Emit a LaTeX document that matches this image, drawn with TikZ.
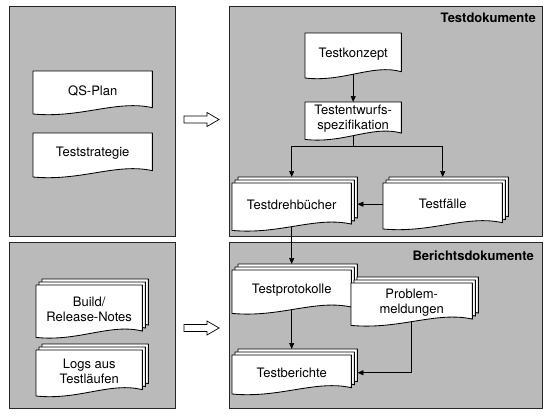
\documentclass[tikz,border=0pt]{standalone}
\usepackage{fontspec}
\setmainfont{TeX Gyre Heros}
\usetikzlibrary{calc,arrows.meta}
\pgfdeclarelayer{bg}
\pgfdeclarelayer{docs}
\pgfsetlayers{bg,docs,main}
\def\dd{9pt}
% #1 node name, #2 offset (pt) to the right and up
\newcommand\docshape[2]{%
  \path[docline] let \p1=(#1.south west), \p2=(#1.north east), \n1={\x2-\x1} in
    (\x1+#2pt,\y2+#2pt) -- (\x2+#2pt,\y2+#2pt) -- (\x2+#2pt,\y1+0.3*\dd+#2pt)
    .. controls (\x2-0.3*\n1+#2pt,\y1+1.2*\dd+#2pt) and (\x1+0.4*\n1+#2pt,\y1-0.9*\dd+#2pt)
    .. (\x1+#2pt,\y1-0.4*\dd+#2pt) -- cycle;}
\newcommand\docstack[1]{%
  \docshape{#1}{6}%
  \docshape{#1}{3}%
  \docshape{#1}{0}}
\tikzset{
  docline/.style={draw=black, fill=white, line width=0.85pt, line join=round},
  doc/.style={inner sep=0pt, align=center, anchor=north west, font=\fontsize{13}{15}\selectfont},
  panel/.style={draw=black!85, fill=black!27, line width=1pt},
  title/.style={inner sep=0pt, font=\fontsize{13}{15}\selectfont\bfseries},
  conn/.style={-{Triangle[length=6pt,width=5pt]}, line width=0.7pt},
  plain/.style={line width=0.7pt},
  hollow/.style={draw=black, fill=white, line width=0.7pt, line join=miter}
}
\begin{document}
\begin{tikzpicture}[x=1pt,y=-1pt]
\useasboundingbox (0,0) rectangle (554,415);
\begin{pgfonlayer}{bg}
  \fill[white] (0,0) rectangle (554,415);
  \draw[panel] (9,6) rectangle (175,236);
  \draw[panel] (9,242) rectangle (175,408);
  \draw[panel] (229,6) rectangle (542,236);
  \draw[panel] (229,242) rectangle (542,408);
\end{pgfonlayer}

% hollow arrows between panels
\draw[hollow] (184,116) -- (207,116) -- (207,112.5) -- (219,119.5) -- (207,126.5) -- (207,123) -- (184,123) -- cycle;
\draw[hollow] (184,324.5) -- (207,324.5) -- (207,321) -- (219,328) -- (207,335) -- (207,331.5) -- (184,331.5) -- cycle;

% titles
\node[title, anchor=base east] (tdok) at (536,22) {Testdokumente};
\node[title, anchor=base east] (bdok) at (534,260) {Berichtsdokumente};

% left panels
\node[doc, minimum width=119pt, minimum height=39pt] (qs) at (33,71) {QS-Plan};
\node[doc, minimum width=119pt, minimum height=40pt] (ts) at (33,133) {Teststrategie};
\node[doc, minimum width=106pt, minimum height=48.4pt] (brn) at (36,285) {Build/\\Release-Notes};
\node[doc, minimum width=106pt, minimum height=42pt] (logs) at (36,350) {Logs aus\\Testläufen};

% right top
\node[doc, minimum width=96pt, minimum height=41pt] (tk) at (305,33) {Testkonzept};
\node[doc, minimum width=96pt, minimum height=33.4pt] (te) at (305,102) {Testentwurfs-\\spezifikation};
\node[doc, minimum width=119pt, minimum height=43.4pt] (tdb) at (232,183) {Testdrehbücher};
\node[doc, minimum width=119pt, minimum height=42pt] (tf) at (383,183) {Testfälle};

% right bottom
\node[doc, minimum width=119pt, minimum height=39.4pt] (tp) at (232,270) {Testprotokolle};
\node[doc, minimum width=121pt, minimum height=38.4pt] (pm) at (351,283) {Problem-\\meldungen};
\node[doc, minimum width=119pt, minimum height=35pt] (tb) at (232,355) {Testberichte};

\begin{pgfonlayer}{docs}
  \docshape{qs}{0}
  \docshape{ts}{0}
  \docstack{brn}
  \docstack{logs}
  \docshape{tk}{0}
  \docshape{te}{0}
  \docstack{tdb}
  \docstack{tf}
  \docstack{tp}
  \docstack{pm}
  \docstack{tb}
\end{pgfonlayer}

% connectors
\coordinate (br) at ($(te.south)+(0,11)$);
\coordinate (tdbE) at ([xshift=6pt]tdb.east);
\coordinate (tbE) at ([xshift=6pt]tb.east);
\draw[conn] (tk.south) -- (te.north);
\draw[plain] (te.south) -- (br);
\draw[conn] (br) -| ([yshift=6pt]tdb.north);
\draw[conn] (br) -| ([yshift=6pt]tf.north);
\draw[conn] (tf.west) -- (tf.west -| tdbE);
\draw[conn] (tdb.south) -- ([yshift=6pt]tp.north);
\draw[conn] (tp.south) -- ([yshift=6pt]tb.north);
\draw[conn] (pm.south) |- (tbE);
\end{tikzpicture}
\end{document}
